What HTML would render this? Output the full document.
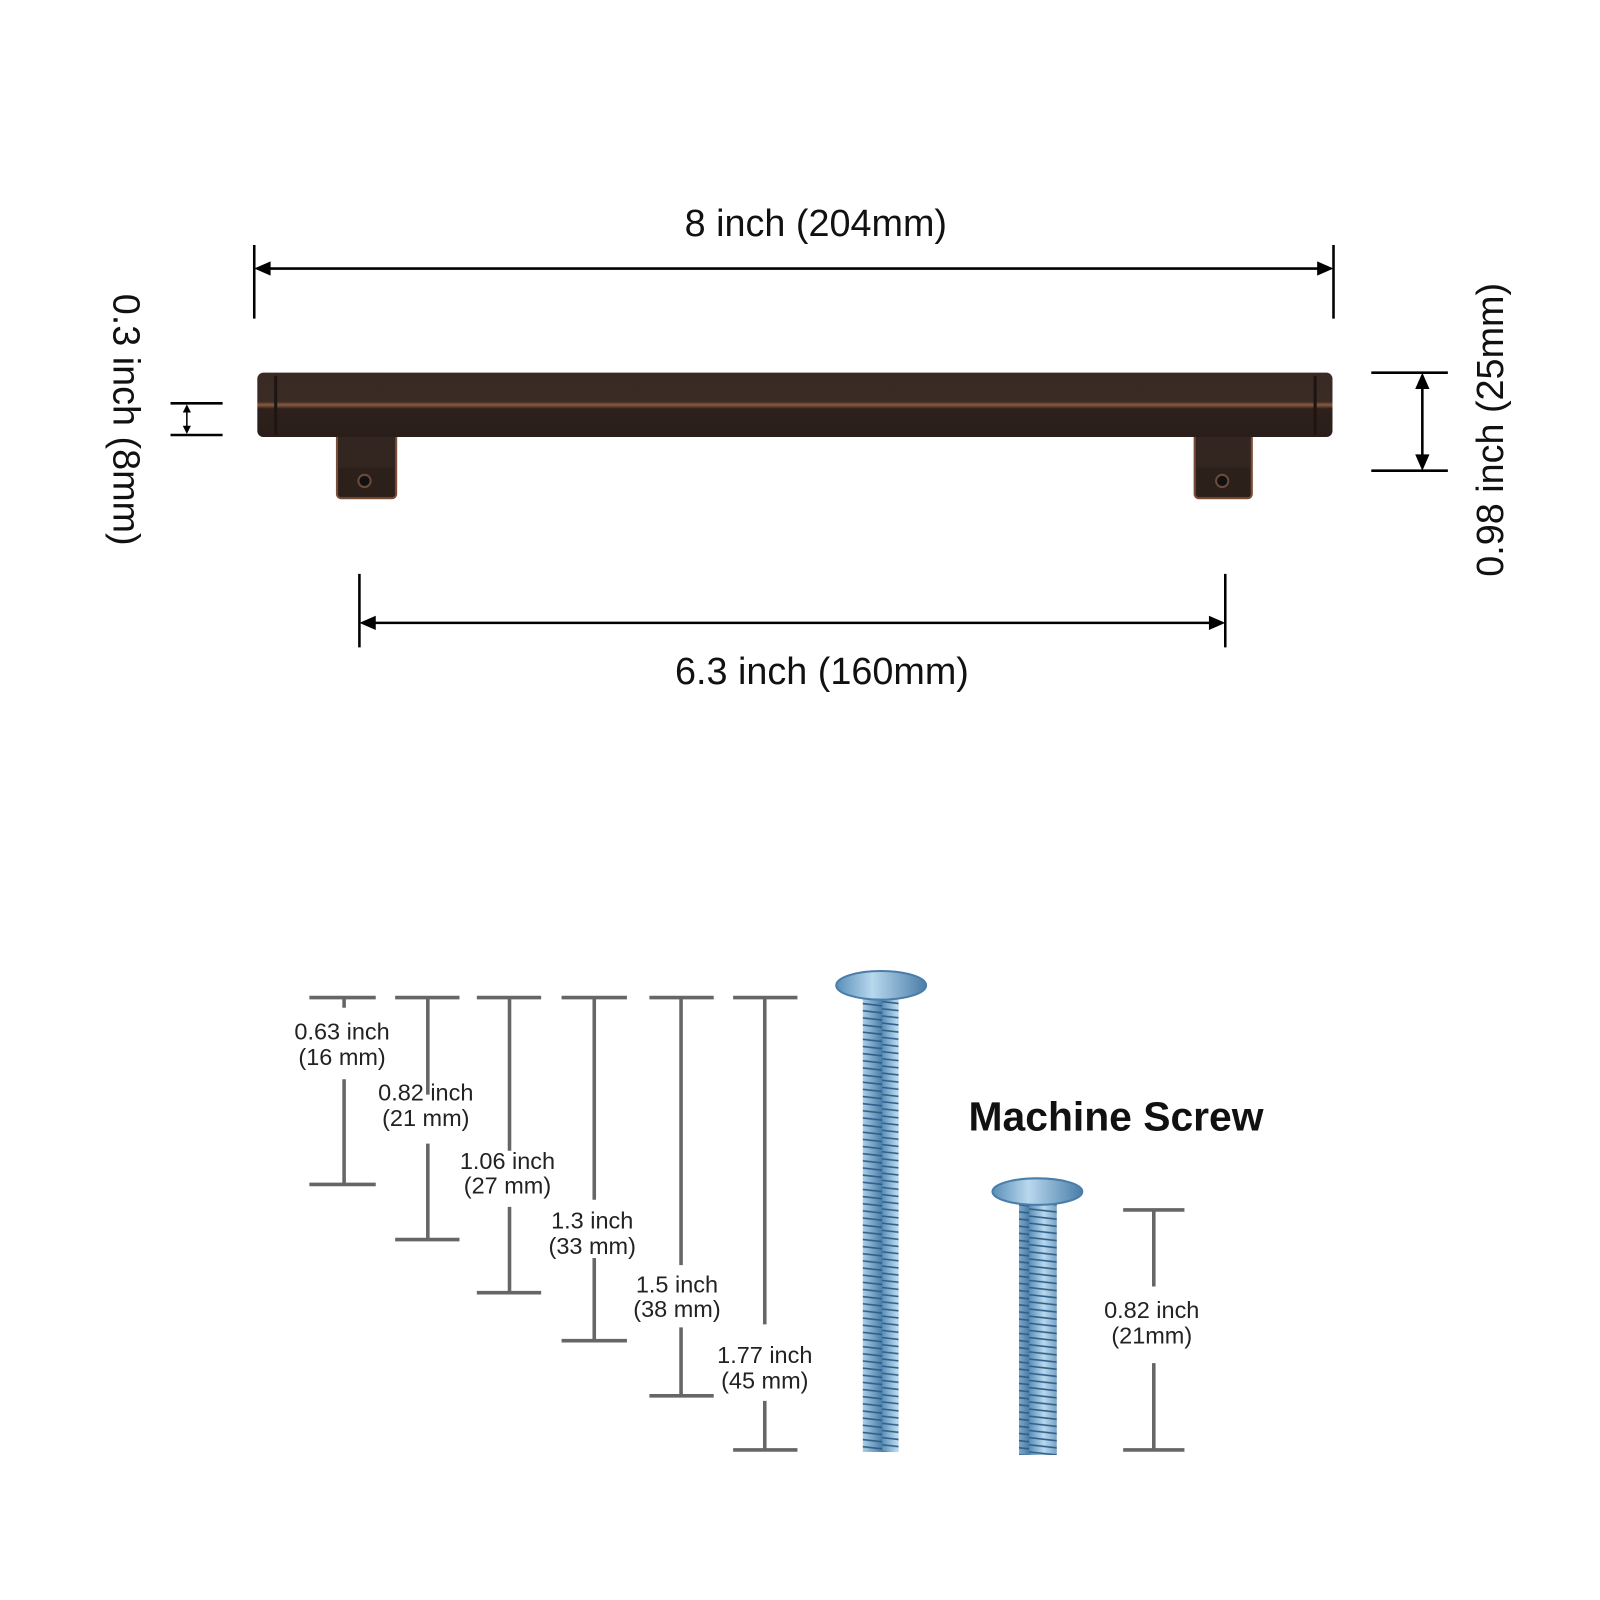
<!DOCTYPE html>
<html><head><meta charset="utf-8"><style>html,body{margin:0;padding:0;background:#fff}svg{display:block}</style></head>
<body>
<svg width="1600" height="1600" viewBox="0 0 1567 1567" xmlns="http://www.w3.org/2000/svg" font-family="Liberation Sans, sans-serif">
<defs>
<linearGradient id="bar" x1="0" y1="0" x2="0" y2="1">
<stop offset="0" stop-color="#3a2a24"/><stop offset="0.45" stop-color="#3b2b25"/><stop offset="0.5" stop-color="#8a5a40"/><stop offset="0.56" stop-color="#2e211c"/><stop offset="1" stop-color="#2a1e1a"/></linearGradient>
<linearGradient id="scr" x1="0" y1="0" x2="1" y2="0">
<stop offset="0" stop-color="#5a8fb8"/><stop offset="0.4" stop-color="#b8d8ee"/><stop offset="1" stop-color="#4a7da8"/></linearGradient>
<pattern id="thr" width="36" height="7" patternUnits="userSpaceOnUse"><rect width="36" height="7" fill="url(#scr)"/><line x1="0" y1="1" x2="36" y2="5" stroke="#2f5f88" stroke-width="1.6"/></pattern>
</defs>
<g stroke="#000" stroke-width="2.5" fill="none">
<line x1="249" y1="240" x2="249" y2="312"/><line x1="1306" y1="240" x2="1306" y2="312"/>
<line x1="252" y1="263" x2="1303" y2="263"/>
<line x1="352" y1="562" x2="352" y2="634"/><line x1="1200" y1="562" x2="1200" y2="634"/>
<line x1="355" y1="610" x2="1197" y2="610"/>
<line x1="1343" y1="365" x2="1418" y2="365"/><line x1="1343" y1="461" x2="1418" y2="461"/><line x1="1393" y1="368" x2="1393" y2="458"/>
<line x1="167" y1="395" x2="218" y2="395"/><line x1="167" y1="426" x2="218" y2="426"/><line x1="183" y1="398" x2="183" y2="423" stroke-width="1.5"/>
</g>
<g fill="#000">
<path d="M249 263 l16 -7 v14z"/><path d="M1306 263 l-16 -7 v14z"/>
<path d="M352 610 l16 -7 v14z"/><path d="M1200 610 l-16 -7 v14z"/>
<path d="M1393 365 l-7 16 h14z"/><path d="M1393 461 l-7 -16 h14z"/>
<path d="M183 396 l-4 8 h8z"/><path d="M183 425 l-4 -8 h8z"/>
</g>
<g font-size="37" fill="#111">
<text x="799" y="231" text-anchor="middle">8 inch (204mm)</text>
<text x="805" y="670" text-anchor="middle">6.3 inch (160mm)</text>
<text transform="translate(111 411) rotate(90)" text-anchor="middle">0.3 inch (8mm)</text>
<text transform="translate(1472 421) rotate(-90)" text-anchor="middle">0.98 inch (25mm)</text>
</g>
<rect x="330" y="395" width="58" height="93" rx="4" fill="#33251f" stroke="#7a4d37" stroke-width="2"/>
<rect x="1170" y="395" width="56" height="93" rx="4" fill="#33251f" stroke="#7a4d37" stroke-width="2"/>
<rect x="332" y="458" width="54" height="28" fill="#2c201b"/><rect x="1172" y="458" width="52" height="28" fill="#2c201b"/>
<circle cx="357" cy="471" r="6" fill="#111" stroke="#6b4a3a" stroke-width="2"/>
<circle cx="1197" cy="471" r="6" fill="#111" stroke="#6b4a3a" stroke-width="2"/>
<rect x="252" y="365" width="1053" height="63" rx="6" fill="url(#bar)"/>
<line x1="270" y1="368" x2="270" y2="426" stroke="#1e1512" stroke-width="3"/>
<line x1="1288" y1="368" x2="1288" y2="426" stroke="#1e1512" stroke-width="3"/>
<g stroke="#666" stroke-width="3.5" fill="none">
<path d="M303 977h65M387 977h63M467 977h63M550 977h64M636 977h63M718 977h63"/>
<path d="M337 977v10M337 1057v103M303 1160h65"/>
<path d="M419 977v95M419 1120v94M387 1214h63"/>
<path d="M499 977v150M499 1182v84M467 1266h63"/>
<path d="M582 977v198M582 1232v81M550 1313h64"/>
<path d="M667 977v262M667 1300v67M636 1367h63"/>
<path d="M749 977v320M749 1372v48M718 1420h63"/>
<path d="M1100 1185h60M1100 1420h60M1130 1185v75M1130 1335v85"/>
</g>
<g font-size="23" fill="#222" text-anchor="middle">
<text x="335" y="1018">0.63 inch</text><text x="335" y="1043">(16 mm)</text>
<text x="417" y="1078">0.82 inch</text><text x="417" y="1103">(21 mm)</text>
<text x="497" y="1145">1.06 inch</text><text x="497" y="1169">(27 mm)</text>
<text x="580" y="1203">1.3 inch</text><text x="580" y="1228">(33 mm)</text>
<text x="663" y="1266">1.5 inch</text><text x="663" y="1290">(38 mm)</text>
<text x="749" y="1335">1.77 inch</text><text x="749" y="1360">(45 mm)</text>
<text x="1128" y="1291">0.82 inch</text><text x="1128" y="1316">(21mm)</text>
</g>
<text x="1093" y="1107" font-size="40" font-weight="bold" fill="#111" text-anchor="middle">Machine Screw</text>
<rect x="845" y="972" width="35" height="450" fill="url(#thr)"/>
<ellipse cx="863" cy="965" rx="44" ry="14" fill="url(#scr)" stroke="#4a7da8" stroke-width="2"/>
<rect x="998" y="1175" width="37" height="250" fill="url(#thr)"/>
<ellipse cx="1016" cy="1167" rx="44" ry="13" fill="url(#scr)" stroke="#4a7da8" stroke-width="2"/>
</svg>
</body></html>
